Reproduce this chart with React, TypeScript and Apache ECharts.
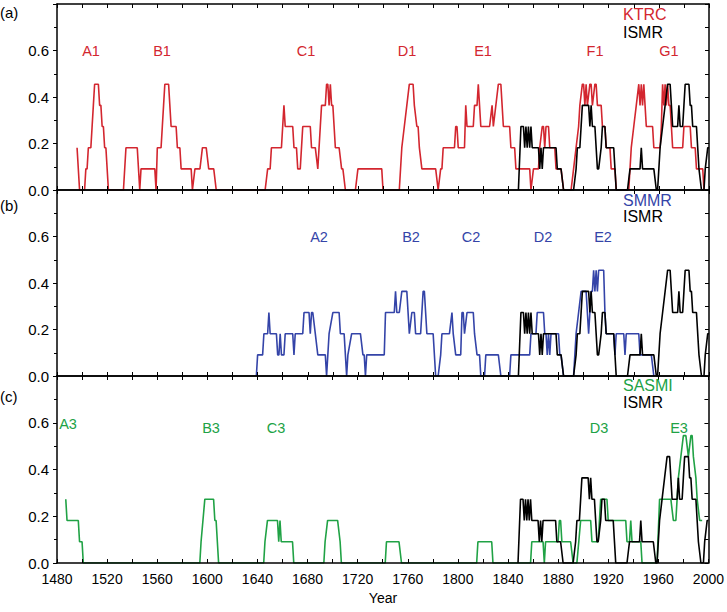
import React, { useEffect, useRef } from 'react';
import * as echarts from 'echarts';

// [year, fraction] vertices
const ktrc: [number, number][] = [
  [1496, 0.182], [1498, 0], [1502, 0], [1503, 0.091], [1504, 0.091], [1505, 0.182], [1507, 0.182], [1508, 0.273],
  [1509, 0.364], [1510, 0.455], [1513, 0.455], [1514, 0.364], [1515, 0.364], [1516, 0.273], [1517, 0.273],
  [1518, 0.182], [1519, 0.182], [1521, 0],
  [1533, 0], [1535, 0.182], [1544, 0.182], [1546, 0], [1547, 0.091], [1558, 0.091], [1559, 0], [1560, 0.182],
  [1563, 0.182], [1564, 0.273], [1565, 0.364], [1566, 0.455], [1569, 0.455], [1570, 0.364], [1571, 0.273],
  [1575, 0.273], [1576, 0.182], [1578, 0.182], [1579, 0.091], [1587, 0.091], [1588, 0], [1590, 0.091],
  [1594, 0.091], [1596, 0.182], [1599, 0.182], [1601, 0.091], [1605, 0.091], [1607, 0],
  [1646, 0], [1648, 0.091], [1650, 0.091], [1651, 0.182], [1659, 0.182], [1660, 0.273], [1661, 0.364],
  [1662, 0.273], [1668, 0.273], [1669, 0.182], [1671, 0.182], [1672, 0.091], [1674, 0.091], [1676, 0.273],
  [1682, 0.273], [1683, 0.182], [1686, 0.182], [1688, 0.091], [1690, 0.273], [1691, 0.364], [1694, 0.364],
  [1695, 0.455], [1696, 0.455], [1697, 0.364], [1698, 0.455], [1699, 0.364], [1700, 0.364], [1701, 0.273],
  [1702, 0.182], [1705, 0.182], [1707, 0.091], [1708, 0.091], [1710, 0],
  [1718, 0], [1720, 0.091], [1739, 0.091], [1740, 0],
  [1753, 0], [1755, 0.182], [1757, 0.273], [1759, 0.364], [1761, 0.455], [1764, 0.455], [1765, 0.364],
  [1767, 0.273], [1768, 0.273], [1769, 0.182], [1771, 0.091], [1782, 0.091], [1784, 0], [1786, 0.091],
  [1787, 0.091], [1788, 0.182], [1797, 0.182], [1798, 0.273], [1799, 0.273], [1800, 0.182], [1805, 0.182],
  [1806, 0.364], [1807, 0.273], [1812, 0.273], [1813, 0.364], [1815, 0.364], [1816, 0.455], [1817, 0.364],
  [1818, 0.273], [1825, 0.273], [1827, 0.364], [1828, 0.273], [1830, 0.364], [1832, 0.455], [1834, 0.455],
  [1835, 0.364], [1836, 0.273], [1841, 0.273], [1842, 0.182], [1845, 0.182], [1846, 0.091], [1857, 0.091],
  [1858, 0], [1860, 0.091], [1864, 0.091], [1865, 0.182], [1867, 0.273], [1868, 0.273], [1869, 0.182],
  [1870, 0.273], [1872, 0.273], [1873, 0.182], [1877, 0.182], [1878, 0.091], [1882, 0.091], [1884, 0],
  [1890, 0], [1892, 0.091], [1894, 0.182], [1896, 0.273], [1897, 0.364], [1899, 0.455], [1900, 0.455],
  [1901, 0.364], [1902, 0.455], [1903, 0.364], [1905, 0.455], [1906, 0.455], [1907, 0.364], [1909, 0.455],
  [1910, 0.455], [1911, 0.364], [1914, 0.364], [1915, 0.273], [1917, 0.273], [1918, 0.182], [1921, 0.182],
  [1922, 0.091], [1925, 0.091], [1926, 0],
  [1936, 0], [1938, 0.182], [1940, 0.273], [1942, 0.364], [1944, 0.455], [1945, 0.364], [1946, 0.455],
  [1947, 0.364], [1948, 0.455], [1949, 0.364], [1950, 0.273], [1955, 0.273], [1956, 0.182], [1961, 0.182],
  [1962, 0.273], [1963, 0.455], [1964, 0.364], [1965, 0.455], [1966, 0.364], [1967, 0.455], [1968, 0.364],
  [1969, 0.364], [1970, 0.273], [1971, 0.182], [1979, 0.182], [1980, 0.273], [1985, 0.273], [1986, 0.182],
  [1989, 0.182], [1990, 0.091], [1995, 0.091], [1996, 0],
];

const ismr: [number, number][] = [
  [1848, 0], [1850, 0.273], [1852, 0.273], [1853, 0.182], [1854, 0.273], [1855, 0.182], [1856, 0.273],
  [1857, 0.182], [1858, 0.273], [1859, 0.182], [1864, 0.182], [1865, 0.091], [1866, 0.182], [1867, 0.091],
  [1868, 0.182], [1878, 0.182], [1879, 0.091], [1882, 0.091], [1884, 0],
  [1892, 0], [1894, 0.091], [1895, 0.182], [1897, 0.182], [1898, 0.273], [1899, 0.364], [1904, 0.364],
  [1905, 0.273], [1906, 0.364], [1907, 0.273], [1909, 0.273], [1910, 0.182], [1911, 0.091], [1912, 0.091],
  [1914, 0.182], [1915, 0.273], [1917, 0.273], [1918, 0.182], [1924, 0.182], [1925, 0.091], [1926, 0],
  [1935, 0], [1937, 0.091], [1945, 0.091], [1946, 0.182], [1947, 0.091], [1956, 0.091], [1958, 0],
  [1959, 0], [1961, 0.182], [1963, 0.273], [1965, 0.364], [1967, 0.455], [1969, 0.455], [1970, 0.364],
  [1971, 0.273], [1975, 0.273], [1976, 0.364], [1977, 0.273], [1979, 0.273], [1980, 0.364], [1981, 0.455],
  [1984, 0.455], [1985, 0.364], [1986, 0.364], [1987, 0.273], [1990, 0.273], [1991, 0.182], [1992, 0.091],
  [1994, 0], [1996, 0], [1997, 0.091], [1999, 0.182], [2000, 0.182],
];

const smmr: [number, number][] = [
  [1639, 0], [1640, 0.091], [1644, 0.091], [1645, 0.182], [1648, 0.182], [1649, 0.273], [1650, 0.182],
  [1655, 0.182], [1656, 0.091], [1657, 0.091], [1658, 0.182], [1659, 0.091], [1661, 0.091], [1662, 0.182],
  [1668, 0.182], [1669, 0.091], [1670, 0.182], [1676, 0.182], [1677, 0.273], [1681, 0.273], [1682, 0.182],
  [1683, 0.273], [1684, 0.273], [1686, 0.182], [1688, 0.091], [1694, 0.091], [1695, 0], [1696, 0.091],
  [1697, 0.182], [1700, 0.273], [1705, 0.273], [1706, 0.182], [1709, 0.182], [1710, 0.091], [1711, 0],
  [1712, 0.091], [1715, 0.182], [1722, 0.182], [1724, 0.091], [1725, 0.091], [1726, 0], [1727, 0.091],
  [1741, 0.091], [1742, 0.273], [1749, 0.273], [1750, 0.364], [1751, 0.273], [1753, 0.273], [1755, 0.364],
  [1759, 0.364], [1761, 0.182], [1763, 0.273], [1765, 0.273], [1766, 0.182], [1770, 0.182], [1772, 0.364],
  [1773, 0.364], [1775, 0.182], [1780, 0.182], [1782, 0], [1784, 0], [1786, 0.091], [1787, 0.182],
  [1793, 0.182], [1795, 0.273], [1796, 0.182], [1798, 0.091], [1802, 0.091], [1803, 0.273], [1804, 0.273],
  [1805, 0.182], [1807, 0.273], [1812, 0.273], [1813, 0.182], [1815, 0.091], [1817, 0.091], [1818, 0],
  [1821, 0], [1822, 0.091], [1832, 0.091], [1834, 0],
  [1841, 0], [1842, 0.091], [1857, 0.091], [1858, 0.182], [1862, 0.182], [1863, 0.273], [1868, 0.273],
  [1869, 0.182], [1870, 0.182], [1871, 0.091], [1872, 0.182], [1873, 0.091], [1874, 0.182], [1880, 0.182],
  [1881, 0.091], [1882, 0.091], [1884, 0],
  [1892, 0], [1894, 0.182], [1896, 0.273], [1898, 0.364], [1902, 0.364], [1903, 0.273], [1904, 0.182],
  [1905, 0.273], [1906, 0.364], [1907, 0.364], [1908, 0.455], [1909, 0.364], [1910, 0.455], [1911, 0.364],
  [1912, 0.455], [1916, 0.455], [1917, 0.273], [1918, 0.182], [1924, 0.182], [1925, 0.091], [1926, 0.182],
  [1932, 0.182], [1933, 0.091], [1934, 0.182], [1944, 0.182], [1945, 0.091], [1954, 0.091], [1956, 0],
];

const sasmi: [number, number][] = [
  [1487, 0.273], [1488, 0.182], [1497, 0.182], [1498, 0.091], [1500, 0.091], [1501, 0],
  [1594, 0], [1595, 0.091], [1598, 0.273], [1605, 0.273], [1606, 0.182], [1607, 0.182], [1609, 0],
  [1645, 0], [1646, 0.091], [1648, 0.182], [1656, 0.182], [1657, 0.091], [1658, 0.182], [1659, 0.091],
  [1668, 0.091], [1669, 0],
  [1693, 0], [1694, 0.091], [1696, 0.182], [1704, 0.182], [1706, 0.091], [1707, 0],
  [1742, 0], [1743, 0.091], [1753, 0.091], [1755, 0],
  [1815, 0], [1816, 0.091], [1827, 0.091], [1828, 0],
  [1858, 0], [1859, 0.091], [1868, 0.091], [1869, 0], [1870, 0.091], [1880, 0.091], [1881, 0.182],
  [1882, 0.182], [1883, 0.091], [1890, 0.091], [1892, 0],
  [1895, 0], [1898, 0.182], [1906, 0.182], [1907, 0.091], [1912, 0.091], [1914, 0.273], [1919, 0.273],
  [1920, 0.182], [1934, 0.182], [1935, 0.091], [1937, 0.091], [1938, 0.182], [1939, 0.091], [1946, 0.091],
  [1947, 0],
  [1959, 0], [1961, 0.273], [1970, 0.273], [1972, 0.182], [1974, 0.182], [1976, 0.364], [1978, 0.455],
  [1980, 0.545], [1982, 0.545], [1984, 0.455], [1986, 0.545], [1987, 0.545], [1988, 0.455], [1990, 0.364],
  [1991, 0.273], [1993, 0.182], [1995, 0.182],
];

const xTicks = { min: 1480, max: 2000, interval: 20 };
const yTicks = { min: 0, max: 0.8, interval: 0.2 };

const panelLetters = ['(a)', '(b)', '(c)'];
const peakLabelsA = ['A1', 'B1', 'C1', 'D1', 'E1', 'F1', 'G1'];
const peakLabelsB = ['A2', 'B2', 'C2', 'D2', 'E2'];
const peakLabelsC = ['A3', 'B3', 'C3', 'D3', 'E3'];
const legendNames = [['KTRC', 'ISMR'], ['SMMR', 'ISMR'], ['SASMI', 'ISMR']];

const RED = '#d3262f';
const BLUE = '#3444a8';
const GREEN = '#20a245';
const FONT = '"Liberation Sans", Arial, Helvetica, sans-serif';

const App: React.FC = () => {
  const chartRef = useRef<HTMLDivElement>(null);

  useEffect(() => {
    if (!chartRef.current) return;
    const chart = echarts.init(chartRef.current, undefined, { renderer: 'svg' });

    const grids = [
      { left: 57, right: 18, top: 4, height: 186 },
      { left: 57, right: 18, top: 190, height: 186 },
      { left: 57, right: 18, top: 376, height: 187 },
    ];

    const axisLine = { lineStyle: { color: '#000', width: 1.5 } };
    const xAxes: any[] = [];
    const yAxes: any[] = [];
    grids.forEach((_, i) => {
      xAxes.push({
        type: 'value', gridIndex: i, position: 'bottom', ...xTicks, z: 5,
        axisLine: { show: true, onZero: false, ...axisLine },
        axisTick: { show: true, inside: true, length: 4, lineStyle: { color: '#000', width: 1 } },
        axisLabel: {
          show: i === 2, color: '#000', fontSize: 14, fontFamily: FONT, margin: 9,
          formatter: (v: number) => (v % 40 === 0 ? String(v) : ''),
        },
        splitLine: { show: false },
      });
      xAxes.push({
        type: 'value', gridIndex: i, position: 'top', ...xTicks, z: 5,
        axisLine: { show: true, onZero: false, ...axisLine },
        axisTick: { show: true, inside: true, length: 4, lineStyle: { color: '#000', width: 1 } },
        axisLabel: { show: false },
        splitLine: { show: false },
      });
      yAxes.push({
        type: 'value', gridIndex: i, position: 'left', ...yTicks, z: 5,
        axisLine: { show: true, onZero: false, ...axisLine },
        axisTick: { show: true, inside: false, length: 4, lineStyle: { color: '#000', width: 1 } },
        minorTick: { show: true, splitNumber: 2, length: 3, lineStyle: { color: '#000', width: 1 } },
        axisLabel: {
          color: '#000', fontSize: 15, fontFamily: FONT, margin: 8,
          formatter: (v: number) => (v > 0.7 ? '' : v.toFixed(1)),
        },
        splitLine: { show: false },
      });
      yAxes.push({
        type: 'value', gridIndex: i, position: 'right', ...yTicks, z: 5,
        axisLine: { show: true, onZero: false, ...axisLine },
        axisTick: { show: true, inside: true, length: 4, lineStyle: { color: '#000', width: 1 } },
        minorTick: { show: true, splitNumber: 2, length: 4, lineStyle: { color: '#000', width: 1 } },
        axisLabel: { show: false },
        splitLine: { show: false },
      });
    });

    const line = (name: string, data: [number, number][], color: string, panel: number) => ({
      name,
      type: 'line',
      xAxisIndex: panel * 2,
      yAxisIndex: panel * 2,
      data,
      showSymbol: false,
      symbol: 'none',
      lineStyle: { color, width: 1.6 },
      itemStyle: { color },
      z: 2,
    });

    const series = [
      line('KTRC', ktrc, RED, 0),
      line('ISMR', ismr, '#000', 0),
      line('SMMR', smmr, BLUE, 1),
      line('ISMR', ismr, '#000', 1),
      line('SASMI', sasmi, GREEN, 2),
      line('ISMR', ismr, '#000', 2),
    ];

    const text = (t: string, x: number, y: number, fill: string, size = 14, align = 'center') => ({
      type: 'text',
      x,
      y,
      z: 10,
      style: {
        text: t, fill, fontSize: size, fontFamily: FONT,
        textAlign: align, textVerticalAlign: 'middle', align, verticalAlign: 'middle',
      },
    });

    const peakPosA = [[91, 51], [162, 51], [306, 51], [407, 51], [483, 51], [595, 51], [669, 51]];
    const peakPosB = [[319, 237], [411, 237], [471, 237], [543, 237], [603, 237]];
    const peakPosC = [[68, 424], [211, 428], [276, 428], [599, 428], [679, 428]];
    const letterY = [12, 205, 396];
    const legendY = [[14, 32], [200, 216], [385, 402]];
    const legendColors = [RED, BLUE, GREEN];

    const graphic: any[] = [];
    panelLetters.forEach((t, i) => graphic.push(text(t, 0, letterY[i], '#000', 15, 'left')));
    peakLabelsA.forEach((t, i) => graphic.push(text(t, peakPosA[i][0], peakPosA[i][1], RED, 14.5)));
    peakLabelsB.forEach((t, i) => graphic.push(text(t, peakPosB[i][0], peakPosB[i][1], BLUE, 14.5)));
    peakLabelsC.forEach((t, i) => graphic.push(text(t, peakPosC[i][0], peakPosC[i][1], GREEN, 14.5)));
    legendNames.forEach((pair, i) => {
      graphic.push(text(pair[0], 623, legendY[i][0], legendColors[i], 16, 'left'));
      graphic.push(text(pair[1], 623, legendY[i][1], '#000', 16, 'left'));
    });
    graphic.push(text('Year', 383, 598, '#000', 14));

    chart.setOption({
      animation: false,
      backgroundColor: '#fff',
      grid: grids,
      xAxis: xAxes,
      yAxis: yAxes,
      series,
      graphic,
    });

    return () => {
      chart.dispose();
    };
  }, []);

  return (
    <div
      ref={chartRef}
      style={{ position: 'absolute', left: 0, top: 0, width: '727px', height: '612px' }}
    />
  );
};

export default App;
